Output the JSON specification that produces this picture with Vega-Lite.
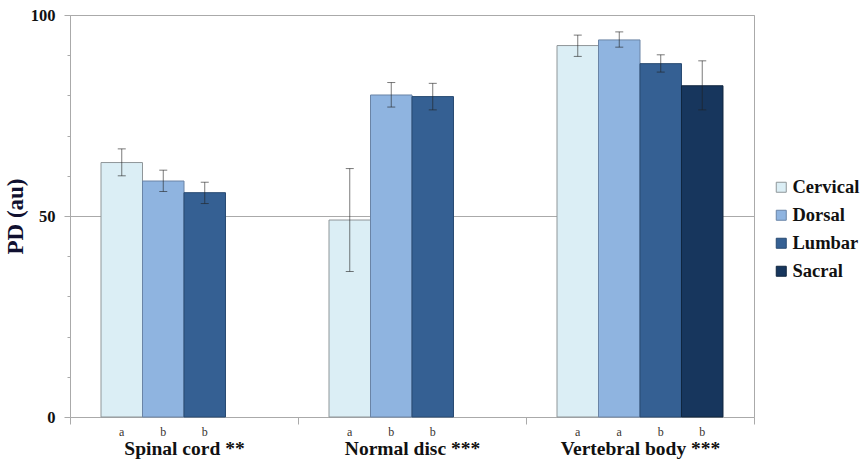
{
  "$schema": "https://vega.github.io/schema/vega-lite/v6.json",
  "width": 684,
  "height": 402,
  "autosize": "none",
  "padding": {"left": 70, "top": 15, "right": 108, "bottom": 47},
  "background": "white",
  "config": {
    "view": {"stroke": "#aaaaaa", "strokeWidth": 1},
    "font": "'Liberation Serif', 'DejaVu Serif', serif"
  },
  "data": {
    "values": [
      {"group": "Spinal cord **", "region": "Cervical", "value": 63.3, "lo": 60.0, "hi": 66.7, "sig": "a"},
      {"group": "Spinal cord **", "region": "Dorsal", "value": 58.7, "lo": 56.1, "hi": 61.4, "sig": "b"},
      {"group": "Spinal cord **", "region": "Lumbar", "value": 55.8, "lo": 53.1, "hi": 58.4, "sig": "b"},
      {"group": "Normal disc ***", "region": "Cervical", "value": 49.0, "lo": 36.2, "hi": 61.8, "sig": "a"},
      {"group": "Normal disc ***", "region": "Dorsal", "value": 80.1, "lo": 77.1, "hi": 83.2, "sig": "b"},
      {"group": "Normal disc ***", "region": "Lumbar", "value": 79.7, "lo": 76.4, "hi": 83.0, "sig": "b"},
      {"group": "Vertebral body ***", "region": "Cervical", "value": 92.4, "lo": 89.7, "hi": 95.0, "sig": "a"},
      {"group": "Vertebral body ***", "region": "Dorsal", "value": 93.8, "lo": 92.0, "hi": 95.8, "sig": "a"},
      {"group": "Vertebral body ***", "region": "Lumbar", "value": 87.9, "lo": 85.8, "hi": 90.1, "sig": "b"},
      {"group": "Vertebral body ***", "region": "Sacral", "value": 82.4, "lo": 76.4, "hi": 88.6, "sig": "b"}
    ]
  },
  "encoding": {
    "x": {
      "field": "group",
      "type": "nominal",
      "sort": null,
      "scale": {"paddingInner": 0, "paddingOuter": 0},
      "axis": {
        "title": null,
        "labelAngle": 0,
        "labelFont": "'Liberation Serif', 'DejaVu Serif', serif",
        "labelFontWeight": "bold",
        "labelFontSize": 19.5,
        "labelColor": "#111111",
        "labelPadding": 15,
        "tickBand": "extent",
        "tickSize": 7,
        "tickColor": "#aaaaaa",
        "domainColor": "#aaaaaa",
        "grid": false
      }
    },
    "xOffset": {
      "field": "region",
      "type": "nominal",
      "scale": {"domain": ["Cervical", "Dorsal", "Lumbar", "Sacral"], "paddingInner": 0, "paddingOuter": 0.747}
    }
  },
  "layer": [
    {
      "mark": {"type": "bar", "strokeWidth": 1},
      "encoding": {
        "y": {
          "field": "value",
          "type": "quantitative",
          "scale": {"domain": [0, 100], "nice": false},
          "axis": {
            "title": "PD (au)",
            "titleFont": "'Liberation Serif', 'DejaVu Serif', serif",
            "titleFontWeight": "bold",
            "titleFontSize": 23,
            "titleColor": "#101030",
            "titlePadding": 3,
            "values": [0, 10, 20, 30, 40, 50, 60, 70, 80, 90, 100],
            "labelExpr": "datum.value % 50 === 0 ? datum.label : ''",
            "labelFont": "'Liberation Serif', 'DejaVu Serif', serif",
            "labelFontWeight": "bold",
            "labelFontSize": 16.5,
            "labelColor": "#111111",
            "labelPadding": 9,
            "tickSize": {"condition": {"test": "datum.value % 50 === 0", "value": 6}, "value": 3},
            "tickColor": "#aaaaaa",
            "domainColor": "#aaaaaa",
            "grid": true,
            "gridColor": "#aaaaaa",
            "gridOpacity": {"condition": {"test": "datum.value % 50 === 0 && datum.value > 0", "value": 1}, "value": 0}
          }
        },
        "fill": {
          "field": "region",
          "type": "nominal",
          "scale": {"domain": ["Cervical", "Dorsal", "Lumbar", "Sacral"], "range": ["#dbeef5", "#8fb4e0", "#356093", "#17365d"]},
          "legend": {
            "title": null,
            "orient": "none",
            "legendX": 702,
            "legendY": 163,
            "symbolType": "square",
            "symbolSize": 100,
            "symbolStrokeColor": "#666666",
            "symbolStrokeWidth": 1,
            "labelFont": "'Liberation Serif', 'DejaVu Serif', serif",
            "labelFontWeight": "bold",
            "labelFontSize": 18.5,
            "labelColor": "#111111",
            "labelOffset": 2,
            "rowPadding": 9,
            "labelLimit": 200
          }
        },
        "stroke": {
          "field": "region",
          "type": "nominal",
          "scale": {"domain": ["Cervical", "Dorsal", "Lumbar", "Sacral"], "range": ["#8f9699", "#6a84a6", "#284a72", "#10263f"]},
          "legend": null
        }
      }
    },
    {
      "mark": {"type": "rule", "color": "#222222", "opacity": 0.6, "strokeWidth": 1},
      "encoding": {
        "y": {"field": "lo", "type": "quantitative"},
        "y2": {"field": "hi"}
      }
    },
    {
      "mark": {"type": "tick", "color": "#222222", "opacity": 0.6, "size": 8, "thickness": 1},
      "encoding": {
        "y": {"field": "lo", "type": "quantitative"}
      }
    },
    {
      "mark": {"type": "tick", "color": "#222222", "opacity": 0.6, "size": 8, "thickness": 1},
      "encoding": {
        "y": {"field": "hi", "type": "quantitative"}
      }
    },
    {
      "mark": {"type": "text", "font": "'Liberation Serif', 'DejaVu Serif', serif", "fontSize": 12, "color": "#3a3530", "baseline": "middle"},
      "encoding": {
        "y": {"datum": -3.7, "type": "quantitative"},
        "text": {"field": "sig"}
      }
    }
  ]
}
